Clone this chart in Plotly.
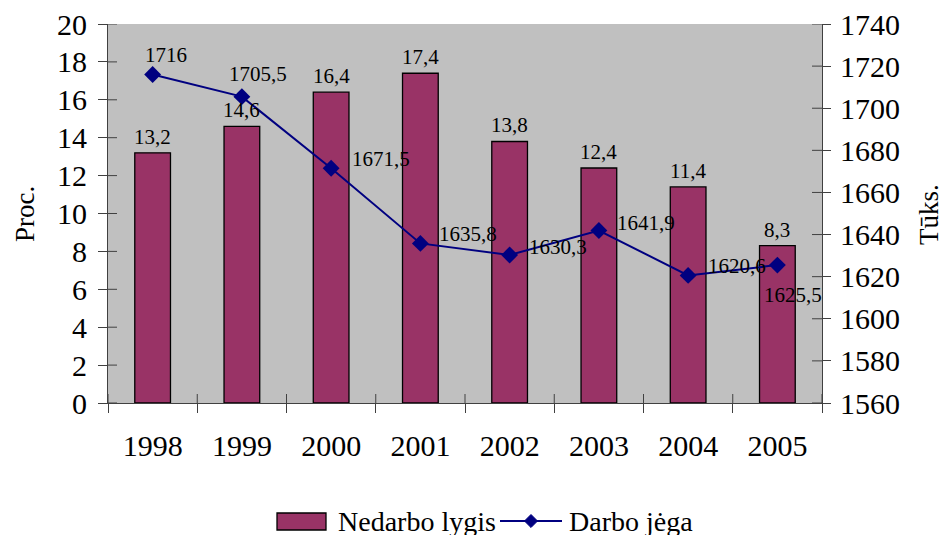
import plotly.graph_objects as go

years = ["1998", "1999", "2000", "2001", "2002", "2003", "2004", "2005"]
nedarbo = [13.2, 14.6, 16.4, 17.4, 13.8, 12.4, 11.4, 8.3]
darbo = [1716, 1705.5, 1671.5, 1635.8, 1630.3, 1641.9, 1620.6, 1625.5]
# label offsets (px) for line labels
lbl_dx = [13, 16, 50, 48, 48, 47, 49, 16]
lbl_dy = [20, 23, 9, 9, 8, 8, 9, -30]

FONT = "Liberation Serif, Times New Roman, DejaVu Serif, serif"
xpos = list(range(len(years)))

# plot area in reference pixels (for paper-coordinate helpers)
PL, PR, PT, PB = 108, 822, 24, 403
OFF = 8  # page body margin
W, H = 948 - OFF, 535


def px(xp):
    return (xp - PL) / (PR - PL)


def py(yp):
    return (PB - yp) / (PB - PT)


def fmt(v):
    return ("%g" % v).replace(".", ",")


BAR_COLOR = "#993366"
LINE_COLOR = "#000080"

fig = go.Figure()
fig.add_trace(go.Bar(
    x=xpos, y=nedarbo, name="Nedarbo lygis",
    marker=dict(color=BAR_COLOR, line=dict(color="#000000", width=1.3)),
    yaxis="y", showlegend=False,
))
fig.add_trace(go.Scatter(
    x=xpos, y=darbo, name="Darbo jėga", mode="lines+markers",
    line=dict(color=LINE_COLOR, width=2),
    marker=dict(symbol="diamond", size=13, color=LINE_COLOR),
    yaxis="y2", cliponaxis=False, showlegend=False,
))

annotations = []
for xp, v in zip(xpos, nedarbo):
    annotations.append(dict(
        x=xp, y=v, xref="x", yref="y", text=fmt(v), showarrow=False,
        yshift=16, xanchor="center", yanchor="middle",
        font=dict(family=FONT, size=21, color="black"),
    ))
for xp, v, dx, dy in zip(xpos, darbo, lbl_dx, lbl_dy):
    annotations.append(dict(
        x=xp, y=v, xref="x", yref="y2", text=fmt(v), showarrow=False,
        xshift=dx, yshift=dy, xanchor="center", yanchor="middle",
        font=dict(family=FONT, size=21, color="black"),
    ))
annotations.append(dict(x=px(25), y=py(214), xref="paper", yref="paper", text="Proc.",
                        textangle=-90, showarrow=False, xanchor="center", yanchor="middle",
                        font=dict(family=FONT, size=27, color="black")))
annotations.append(dict(x=px(929), y=py(214), xref="paper", yref="paper", text="Tūks.",
                        textangle=-90, showarrow=False, xanchor="center", yanchor="middle",
                        font=dict(family=FONT, size=27, color="black")))
# legend texts
annotations.append(dict(x=px(336), y=py(521), xref="paper", yref="paper", text="Nedarbo lygis",
                        xanchor="left", yanchor="middle", showarrow=False,
                        font=dict(family=FONT, size=28, color="black")))
annotations.append(dict(x=px(567), y=py(521), xref="paper", yref="paper", text="Darbo jėga",
                        xanchor="left", yanchor="middle", showarrow=False,
                        font=dict(family=FONT, size=28, color="black")))

shapes = []
# inner parts of crossing tick marks
for t in range(0, 21, 2):
    shapes.append(dict(type="line", xref="paper", yref="y", x0=0, x1=9 / (PR - PL), y0=t, y1=t,
                       line=dict(color="#404040", width=1)))
for t in range(1560, 1741, 20):
    shapes.append(dict(type="line", xref="paper", yref="y2", x0=1 - 10 / (PR - PL), x1=1, y0=t, y1=t,
                       line=dict(color="#404040", width=1)))
for i in range(len(years) + 1):
    shapes.append(dict(type="line", xref="x", yref="paper", x0=i - 0.5, x1=i - 0.5,
                       y0=0, y1=9 / (PB - PT), line=dict(color="#404040", width=1)))
# legend swatches
shapes.append(dict(type="rect", xref="paper", yref="paper", x0=px(277), x1=px(326),
                   y0=py(530), y1=py(513), fillcolor=BAR_COLOR, line=dict(color="black", width=1.3)))
shapes.append(dict(type="line", xref="paper", yref="paper", x0=px(500), x1=px(562),
                   y0=py(521), y1=py(521), line=dict(color=LINE_COLOR, width=2)))
shapes.append(dict(type="path", xref="paper", yref="paper",
                   path="M %f,%f L %f,%f L %f,%f L %f,%f Z" % (
                       px(531), py(514.5), px(537.5), py(521), px(531), py(527.5), px(524.5), py(521)),
                   fillcolor=LINE_COLOR, line=dict(color=LINE_COLOR, width=1)))

fig.update_layout(
    width=W, height=H,
    margin=dict(l=PL - OFF, r=948 - PR, t=PT - OFF, b=H - (PB - OFF)),
    paper_bgcolor="white", plot_bgcolor="#C0C0C0",
    font=dict(family=FONT, size=30, color="black"),
    bargap=0.6,
    showlegend=False,
    xaxis=dict(range=[-0.5, len(years) - 0.5], tickmode="array", tickvals=xpos, ticktext=years,
               automargin=False, ticklabeloverflow="allow",
               showgrid=False, zeroline=False, showline=True, linecolor="#404040", linewidth=1,
               ticks="", ticklabelstandoff=16, tickfont=dict(family=FONT, size=30), tickangle=0,
               minor=dict(tickmode="array", tickvals=[i - 0.5 for i in range(len(years) + 1)],
                          ticks="outside", ticklen=9, tickcolor="#404040", showgrid=False)),
    yaxis=dict(range=[0, 20], dtick=2, showgrid=False, zeroline=False, showline=True,
               automargin=False, ticklabeloverflow="allow",
               linecolor="#404040", linewidth=1, ticks="outside", ticklen=9,
               tickcolor="#404040", tickfont=dict(family=FONT, size=30), ticklabelstandoff=5),
    yaxis2=dict(range=[1560, 1740], dtick=20, overlaying="y", side="right",
                automargin=False, ticklabeloverflow="allow",
                showgrid=False, zeroline=False, showline=True, linecolor="#404040",
                linewidth=1, ticks="outside", ticklen=8, tickcolor="#404040",
                tickfont=dict(family=FONT, size=30), ticklabelstandoff=3),
    annotations=annotations,
    shapes=shapes,
)

fig.write_html("out.html")
